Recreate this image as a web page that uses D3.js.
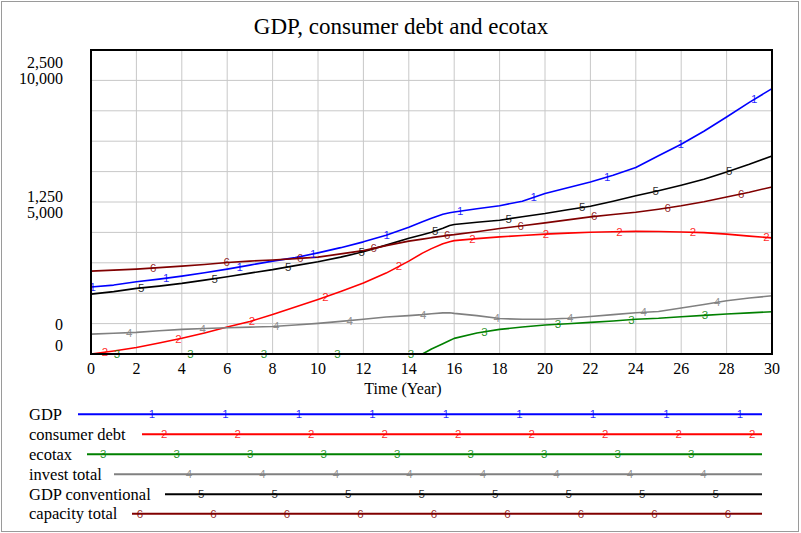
<!DOCTYPE html>
<html>
<head>
<meta charset="utf-8">
<script src="https://cdn.jsdelivr.net/npm/d3@7/dist/d3.min.js"></script>
<style>
  html, body { margin: 0; padding: 0; background: #fff; }
  svg { display: block; }
</style>
</head>
<body>
<script>
// Simulation time (years)
const years = [0,1,2,3,4,5,6,7,8,9,10,11,12,13,14,14.6,15,15.5,15.8,16,17,18,19,20,21,22,23,24,25,26,27,28,29,30];

// Series values (left scale 0–10,000 for GDP, debt, conventional GDP and capacity; right scale 0–2,500 for ecotax and investment)
const gdp = [2446,2519,2639,2738,2847,2967,3103,3249,3395,3522,3697,3887,4099,4344,4636,4836,4964,5110,5165,5190,5311,5420,5585,5866,6077,6289,6534,6815,7245,7665,8140,8661,9198,9698];
const consumerDebt = [0,110,237,402,573,767,986,1186,1442,1716,1989,2281,2592,2957,3395,3687,3851,4033,4106,4143,4216,4281,4333,4380,4417,4449,4467,4482,4478,4460,4435,4380,4307,4245];
const gdpConventional = [2190,2281,2398,2482,2581,2701,2821,2957,3084,3230,3369,3541,3734,3979,4234,4362,4453,4599,4698,4734,4818,4891,5019,5136,5274,5402,5585,5785,5968,6169,6388,6654,6935,7238];
const capacityTotal = [3030,3066,3103,3157,3212,3274,3347,3395,3438,3486,3541,3661,3778,3960,4125,4198,4252,4307,4344,4362,4471,4588,4690,4792,4902,5011,5099,5183,5293,5420,5566,5741,5913,6106];
const ecotax = [0,0,0,0,0,0,0,0,0,0,0,0,0,0,0,0,46,94,123,143,192,225,246,265,276,289,301,317,326,340,353,365,376,386];
const investTotal = [182,189,198,212,225,233,240,246,251,265,280,298,317,338,351,360,368,376,377,371,351,324,317,317,326,342,360,377,388,420,452,486,511,532];

// Axis tick labels
const xTicks = d3.range(0, 31, 2);
const leftTicks = [0, 5000, 10000];
const rightTicks = [0, 1250, 2500];

const seriesNames = ["GDP", "consumer debt", "ecotax", "invest total", "GDP conventional", "capacity total"];
const seriesValues = [gdp, consumerDebt, ecotax, investTotal, gdpConventional, capacityTotal];
const seriesAxis = ["left", "left", "right", "right", "left", "left"];
const seriesColors = ["#0000ff", "#ff0000", "#008000", "#808080", "#000000", "#800000"];

const W = 801, H = 533;
const plot = { left: 91, right: 772, top: 50, bottom: 354 };
const plotH = plot.bottom - plot.top;

const svg = d3.select("body").append("svg")
  .attr("width", W).attr("height", H)
  .attr("viewBox", `0 0 ${W} ${H}`);

const serif = "'Liberation Serif', 'Times New Roman', serif";
const sans = "'Liberation Sans', Arial, sans-serif";

// Outer border
svg.append("rect")
  .attr("x", 1.5).attr("y", 1.5).attr("width", W - 4).attr("height", H - 3)
  .attr("fill", "#fff").attr("stroke", "#9a9a9a").attr("stroke-width", 1);

// Title
svg.append("text")
  .attr("x", 401).attr("y", 34)
  .attr("text-anchor", "middle")
  .attr("font-family", serif).attr("font-size", 23)
  .text("GDP, consumer debt and ecotax");

// Scales: the labelled maximum sits on the ninth of ten grid divisions
const x = d3.scaleLinear().domain([0, 30]).range([plot.left, plot.right]);
const yLeft = d3.scaleLinear().domain([0, 10000]).range([plot.bottom, plot.bottom - plotH * 0.9]);
const yRight = d3.scaleLinear().domain([0, 2500]).range([plot.bottom, plot.bottom - plotH * 0.9]);
const scaleFor = a => a === "left" ? yLeft : yRight;

// Grid
const grid = svg.append("g").attr("stroke", "#c8c8c8").attr("stroke-width", 1);
xTicks.slice(1, -1).forEach(t => {
  grid.append("line").attr("x1", x(t)).attr("x2", x(t)).attr("y1", plot.top).attr("y2", plot.bottom);
});
d3.range(1, 10).forEach(i => {
  const gy = plot.top + plotH * i / 10;
  grid.append("line").attr("x1", plot.left).attr("x2", plot.right).attr("y1", gy).attr("y2", gy);
});

// Series lines
const lineGen = scale => d3.line().x((d, i) => x(years[i])).y(d => scale(d));
const linesG = svg.append("g").attr("fill", "none").attr("stroke-width", 1.6).attr("stroke-linejoin", "round");
seriesValues.forEach((vals, k) => {
  linesG.append("path")
    .attr("d", lineGen(scaleFor(seriesAxis[k]))(vals))
    .attr("stroke", seriesColors[k]);
});

// Linear lookup of a series at time t
const bis = d3.bisector(d => d).right;
function valueAt(vals, t) {
  let i = bis(years, t);
  if (i <= 0) return vals[0];
  if (i >= years.length) return vals[vals.length - 1];
  const t0 = years[i - 1], t1 = years[i];
  return vals[i - 1] + (vals[i] - vals[i - 1]) * (t - t0) / (t1 - t0);
}

// Numbered markers along each line
const markerStep = 73.5;
const markG = svg.append("g").attr("font-family", sans).attr("font-size", 11.5)
  .attr("text-anchor", "middle").attr("dominant-baseline", "central");
seriesValues.forEach((vals, k) => {
  for (let px = plot.left + 1.8 + 12.1 * k; px <= plot.right; px += markerStep) {
    const t = x.invert(px);
    markG.append("text")
      .attr("x", px).attr("y", scaleFor(seriesAxis[k])(valueAt(vals, t)))
      .attr("fill", seriesColors[k]).attr("fill-opacity", 0.85)
      .text(k + 1);
  }
});

// Plot frame
svg.append("rect")
  .attr("x", plot.left).attr("y", plot.top)
  .attr("width", plot.right - plot.left).attr("height", plotH)
  .attr("fill", "none").attr("stroke", "#000").attr("stroke-width", 2);

// X axis labels
const xl = svg.append("g").attr("font-family", serif).attr("font-size", 16).attr("text-anchor", "middle");
xTicks.forEach(t => {
  xl.append("text").attr("x", x(t)).attr("y", 373.5).text(t);
});
xl.append("text").attr("x", 403).attr("y", 393.5).text("Time (Year)");

// Y axis labels: two stacked scales
const fmt = d3.format(",");
const leftDy = [-3.5, 0.5, 3.5];
const rightDy = [-24.5, -15.5, -12.5];
const yl = svg.append("g").attr("font-family", serif).attr("font-size", 16).attr("text-anchor", "end");
leftTicks.forEach((v, i) => {
  yl.append("text").attr("x", 63).attr("y", yLeft(v) + leftDy[i]).text(fmt(v));
});
rightTicks.forEach((v, i) => {
  yl.append("text").attr("x", 63).attr("y", yRight(v) + rightDy[i]).text(fmt(v));
});

// Legend
const legendRows = [414.3, 434.3, 454.3, 474.3, 494.3, 513.8];
const legendLineStart = [78, 142, 87, 114, 165, 132];
const legendLineEnd = 762;
const lg = svg.append("g");
seriesNames.forEach((name, k) => {
  const cy = legendRows[k];
  lg.append("text")
    .attr("x", 29).attr("y", cy + 5.5)
    .attr("font-family", serif).attr("font-size", 16.5)
    .text(name);
  lg.append("line")
    .attr("x1", legendLineStart[k]).attr("x2", legendLineEnd)
    .attr("y1", cy).attr("y2", cy)
    .attr("stroke", seriesColors[k]).attr("stroke-width", 2);
  for (let px = 5 + 12.3 * k; px <= legendLineEnd; px += markerStep) {
    if (px < legendLineStart[k] + 5) continue;
    lg.append("text")
      .attr("x", px).attr("y", cy)
      .attr("font-family", sans).attr("font-size", 11.5)
      .attr("text-anchor", "middle").attr("dominant-baseline", "central")
      .attr("fill", seriesColors[k]).attr("fill-opacity", 0.85)
      .text(k + 1);
  }
});
</script>
</body>
</html>
